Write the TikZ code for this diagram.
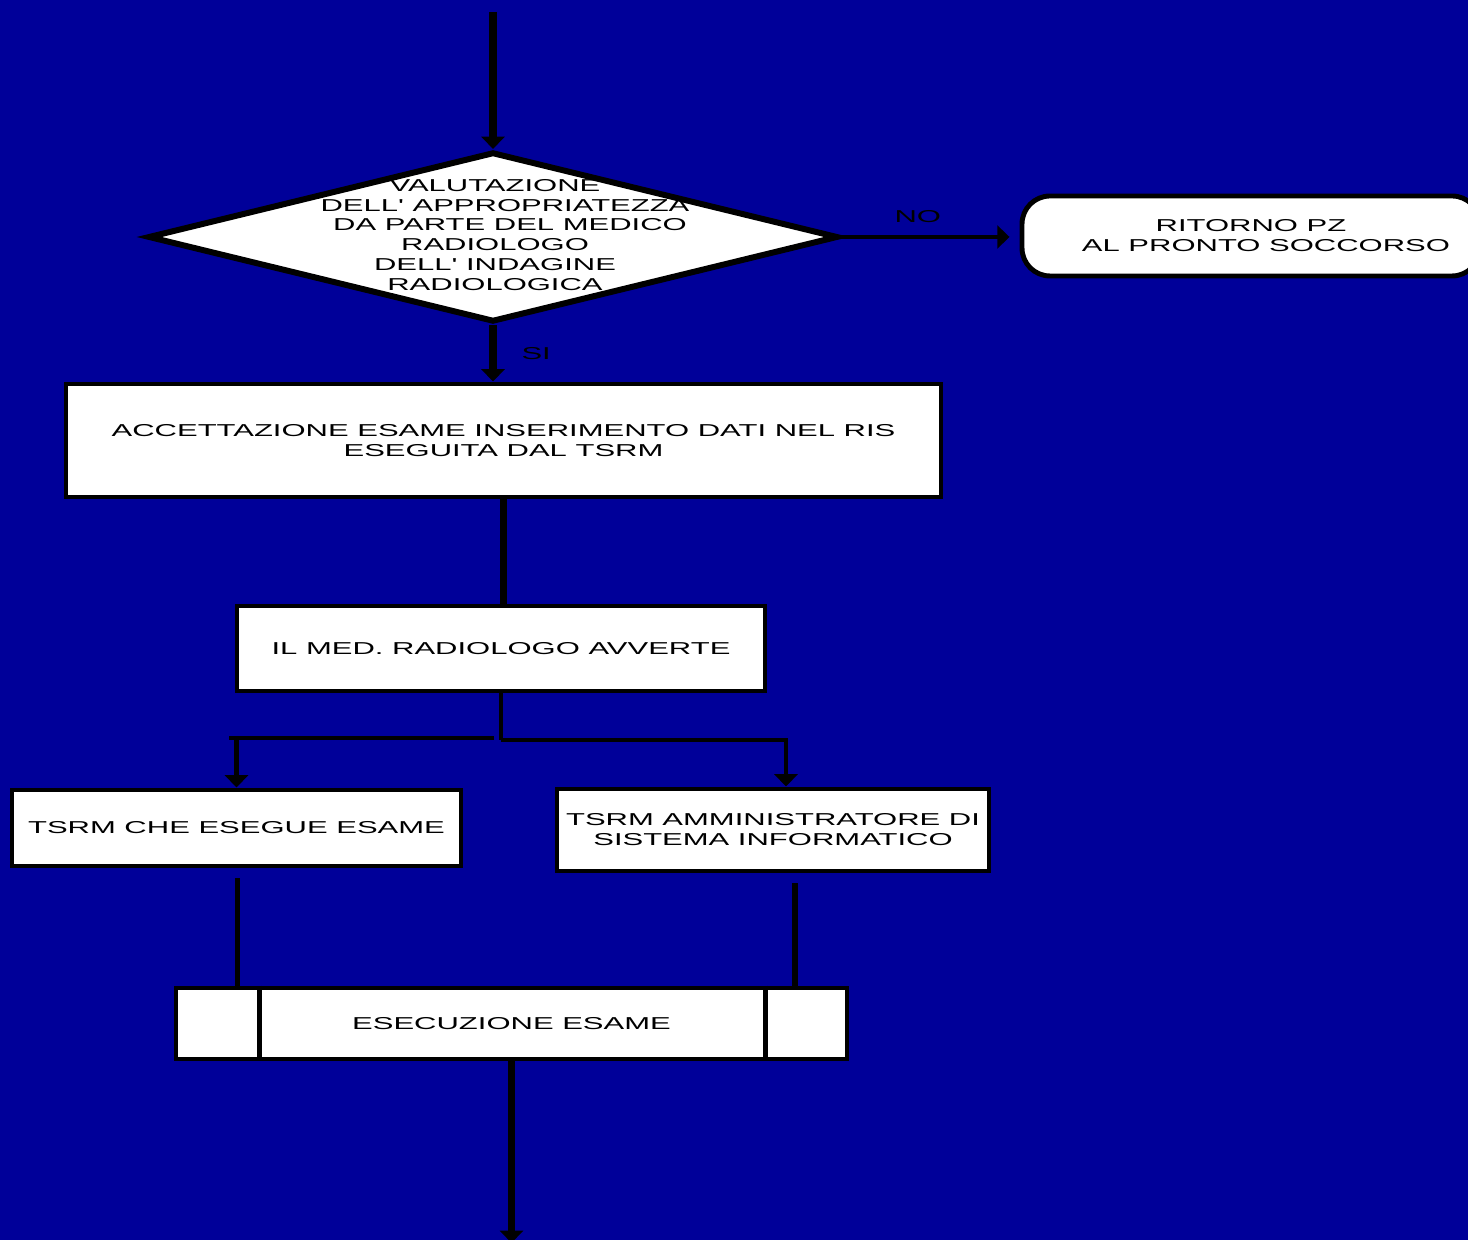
\documentclass[tikz,border=0pt]{standalone}
\usepackage{fontspec}
\newfontfamily\flowfont[FakeStretch=1.8]{Liberation Sans}
\usetikzlibrary{arrows.meta,shapes.geometric}
\definecolor{slideblue}{RGB}{0,0,153}

\begin{document}
\begin{tikzpicture}[>={Triangle[width=13pt,length=7pt]},
  every node/.style={font=\flowfont\fontsize{9.8pt}{11.3pt}\selectfont,align=center,inner sep=0pt},
  box/.style={draw,fill=white,line width=2.8pt},
  decision/.style={box,diamond,line width=3.4pt,minimum width=13.8cm,minimum height=3.4cm},
  endbox/.style={box,rounded corners=0.56cm,minimum width=9.16cm,minimum height=1.6cm},
  mainflow/.style={line width=4pt},
  branch/.style={line width=2.5pt}]
\clip (0,0) rectangle (29.36,24.8);
\fill[slideblue] (0,0) rectangle (29.36,24.8);

\coordinate (start) at (9.86,24.56);
\node[decision] (eval) at (9.86,20.06) {};
\node (evaltext) at (9.9,20.1) {VALUTAZIONE\\\hspace{0.4cm}DELL' APPROPRIATEZZA\\\hspace{0.6cm}DA PARTE DEL MEDICO\\RADIOLOGO\hspace{0.9cm}\\DELL' INDAGINE\hspace{0.6cm}\\RADIOLOGICA\hspace{0.3cm}};
\node[endbox] (back) at (25.02,20.08) {RITORNO PZ\hspace{0.6cm}\\\hspace{0.6cm}AL PRONTO SOCCORSO};
\node[box,minimum width=17.5cm,minimum height=2.26cm] (accept) at (10.07,15.99) {ACCETTAZIONE ESAME INSERIMENTO DATI NEL RIS\\ESEGUITA DAL TSRM};
\node[box,minimum width=10.56cm,minimum height=1.7cm] (warn) at (10.02,11.83) {IL MED. RADIOLOGO AVVERTE};
\coordinate (split) at (10.04,10.0);
\node[box,minimum width=8.98cm,minimum height=1.52cm] (tech) at (4.73,8.24) {TSRM CHE ESEGUE ESAME};
\node[box,minimum width=8.64cm,minimum height=1.64cm] (admin) at (15.46,8.2) {TSRM AMMINISTRATORE DI\\SISTEMA INFORMATICO};
\node[box,minimum width=13.42cm,minimum height=1.42cm] (exam) at (10.23,4.33) {ESECUZIONE ESAME};
\coordinate (next) at (10.23,-0.06);

\draw[line width=2.8pt] ([xshift=1.72cm]exam.north west) -- ([xshift=1.72cm]exam.south west);
\draw[line width=2.8pt] ([xshift=-1.68cm]exam.north east) -- ([xshift=-1.68cm]exam.south east);

\draw[mainflow,->] (start) -- (eval.north);
\draw[branch,->,shorten >=0.2cm] (eval.east) -- (eval.east -| back.west) node[pos=0.43,above=0.25cm] (no) {NO};
\draw[mainflow,->] (eval.south) -- (eval.south |- accept.north) node[midway,right=0.5cm] (yes) {SI};
\draw[mainflow] (accept.south) -- (accept.south |- warn.north);
\draw[branch] (warn.south) -- (warn.south |- split);
\draw[branch,->] (warn.south |- split) -| ([xshift=0.26cm]admin.north);
\draw[branch] ([xshift=-0.16cm,yshift=0.04cm]split) -- ([xshift=-0.16cm,yshift=0.04cm]tech.north |- split);
\draw[branch,->] ([yshift=0.04cm]tech.north |- split) -- (tech.north);
\draw[line width=3.4pt,shorten <=0.2cm] ([xshift=0.02cm]tech.south) -- ([xshift=0.02cm]tech.south |- exam.north);
\draw[line width=3.4pt,shorten <=0.2cm] ([xshift=0.44cm]admin.south) -- ([xshift=0.44cm]admin.south |- exam.north);
\draw[mainflow,->] (exam.south) -- (next);
\end{tikzpicture}
\end{document}
